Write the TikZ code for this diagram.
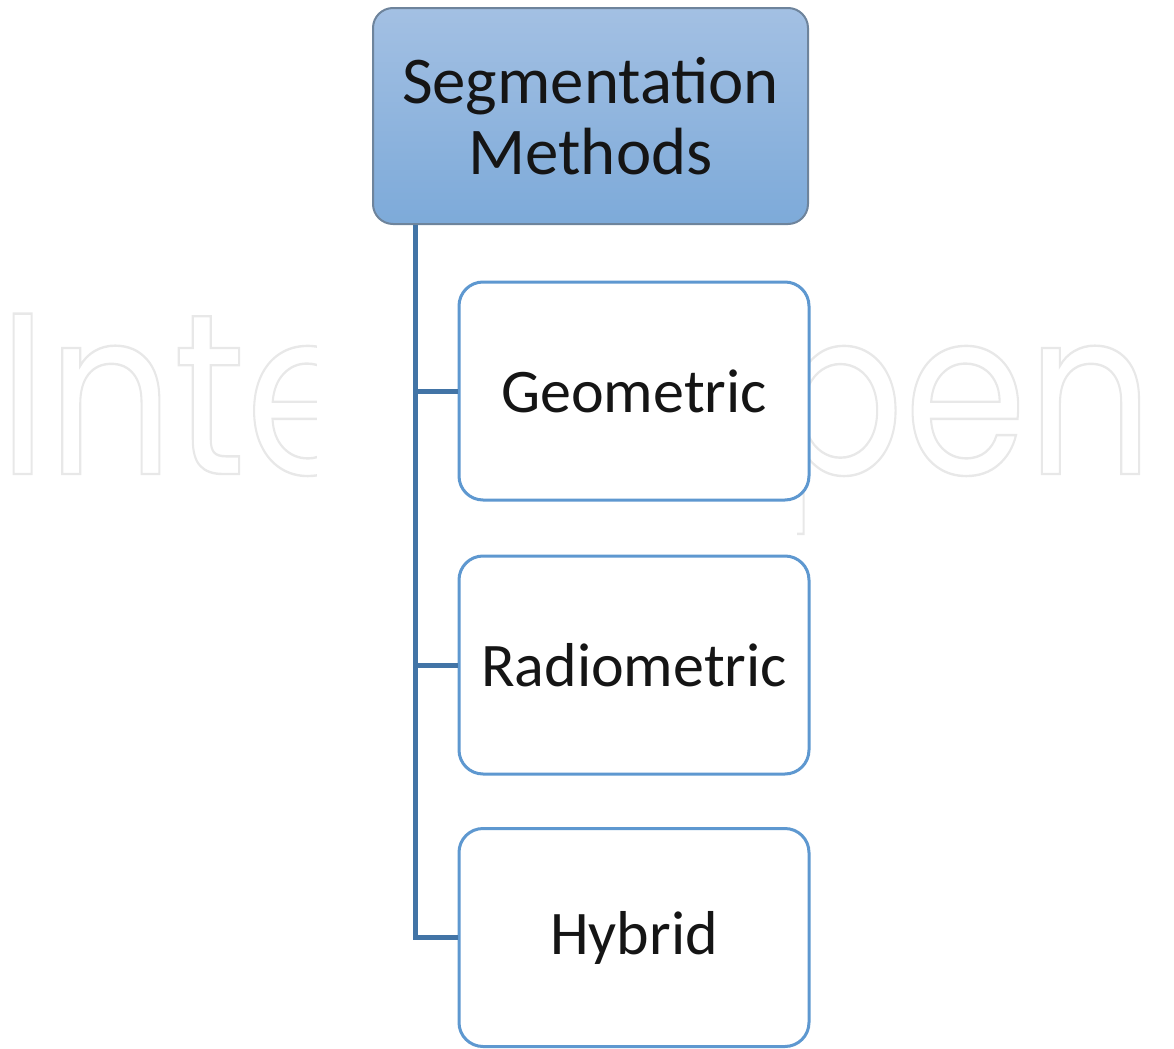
\documentclass[tikz,border=0pt]{standalone}
\usepackage{fontspec}
\setmainfont{Carlito}
\newfontfamily\markfont{Poppins}
\definecolor{rootTop}{HTML}{A3C0E3}
\definecolor{rootBot}{HTML}{7DAAD9}
\definecolor{rootEdge}{HTML}{6E849C}
\definecolor{childEdge}{HTML}{5E98D0}
\definecolor{trunkBlue}{HTML}{4274A6}
\definecolor{markGray}{HTML}{E8E8E8}
\definecolor{inkText}{HTML}{151515}
\tikzset{
  rootbox/.style={draw=rootEdge, line width=1pt, rounded corners=10pt,
    top color=rootTop, bottom color=rootBot, minimum width=217.5pt,
    minimum height=108pt, align=center, text=inkText,
    font=\fontsize{33.4pt}{35.5pt}\selectfont},
  childbox/.style={draw=childEdge, line width=1.5pt, rounded corners=12pt,
    fill=white, minimum width=175pt, minimum height=109pt, text=inkText,
    font=\fontsize{31pt}{34pt}\selectfont},
  branch/.style={draw=trunkBlue, line width=2.5pt}
}
\begin{document}
\begin{tikzpicture}[x=0.5pt, y=-0.5pt]
  \useasboundingbox (0,0) rectangle (1174,1049);
  % faint outlined publisher mark in the background
  \node[anchor=base west, inner sep=0pt, text=markGray, xscale=0.86,
        font=\markfont\fontsize{115pt}{115pt}\selectfont] (mark) at (-2,474)
    {\special{pdf:code 1 Tr 1.2 w}IntechOpen\special{pdf:code 0 Tr}};
  % white panel behind the diagram hides the middle of the mark
  \fill[white] (317,240) rectangle (797,540);
  % hierarchy
  \node[rootbox] (root) at (590.5,116) {Segmentation\\Methods};
  \node[childbox] (geo) at (634,391) {Geometric};
  \node[childbox] (rad) at (634,665) {Radiometric};
  \node[childbox] (hyb) at (634,937.5) {Hybrid};
  \coordinate (trunk) at ([xshift=21.5pt]root.south west);
  \draw[branch] (trunk) |- (hyb.west);
  \draw[branch] (trunk |- geo.west) -- (geo.west);
  \draw[branch] (trunk |- rad.west) -- (rad.west);
\end{tikzpicture}
\end{document}
